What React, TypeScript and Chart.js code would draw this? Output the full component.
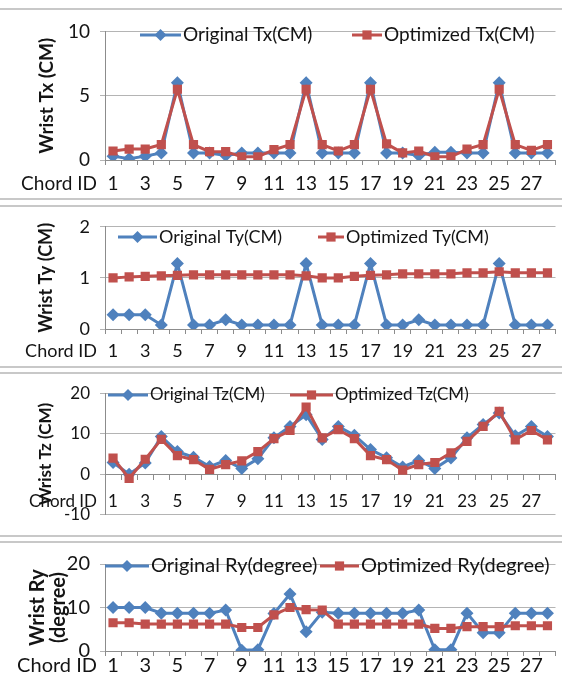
import React, { useEffect, useRef } from "react";
import { Chart, registerables } from "chart.js";

Chart.register(...registerables);

const CHORD_IDS = ["1","2","3","4","5","6","7","8","9","10","11","12","13","14","15","16","17","18","19","20","21","22","23","24","25","26","27","28"];
const SHOWN_X_LABELS = ["1","3","5","7","9","11","13","15","17","19","21","23","25","27"];

const TX_ORIGINAL = [0.3,0.1,0.3,0.55,6,0.55,0.55,0.35,0.55,0.55,0.55,0.55,6,0.55,0.55,0.55,6,0.55,0.55,0.35,0.6,0.6,0.55,0.55,6,0.55,0.55,0.55];
const TX_OPTIMIZED = [0.7,0.85,0.85,1.2,5.5,1.2,0.65,0.65,0.25,0.25,0.8,1.2,5.5,1.2,0.7,1.2,5.5,1.25,0.55,0.7,0.25,0.25,0.85,1.2,5.5,1.2,0.75,1.2];

const TY_ORIGINAL = [0.28,0.28,0.28,0.08,1.28,0.08,0.08,0.18,0.08,0.08,0.08,0.08,1.28,0.08,0.08,0.08,1.28,0.08,0.08,0.18,0.08,0.08,0.08,0.08,1.28,0.08,0.08,0.08];
const TY_OPTIMIZED = [1.0,1.02,1.03,1.04,1.05,1.06,1.06,1.06,1.06,1.06,1.06,1.06,1.04,1.0,1.0,1.03,1.05,1.06,1.08,1.08,1.08,1.08,1.1,1.1,1.12,1.1,1.1,1.1];

const TZ_ORIGINAL = [2.9,0,2.8,9.3,5.6,4.2,1.9,3.4,1.4,3.8,9.0,11.8,14.7,8.6,11.8,9.6,6.1,4.1,1.8,3.4,1.4,4.0,9.0,12.3,15.1,9.5,11.8,9.3];
const TZ_OPTIMIZED = [4.0,-1.0,3.7,8.6,4.6,3.6,1.2,2.4,3.3,5.6,8.8,10.8,16.6,9.0,11.0,8.8,4.6,3.6,1.0,2.4,2.9,5.3,8.1,11.8,15.5,8.5,10.8,8.5];

const RY_ORIGINAL = [10,10,10,8.7,8.7,8.7,8.7,9.4,0.2,0.3,8.6,13.1,4.4,8.9,8.7,8.7,8.7,8.7,8.7,9.4,0.3,0.3,8.7,4.2,4.2,8.7,8.7,8.7];
const RY_OPTIMIZED = [6.5,6.5,6.2,6.2,6.2,6.2,6.2,6.2,5.4,5.4,8.3,10.0,9.5,9.4,6.2,6.2,6.2,6.2,6.2,6.2,5.2,5.2,5.6,5.6,5.6,5.8,5.8,5.8];

const TEXT_COLOR = "#141414";
const GRID_COLOR = "#b4b4b4";
const AXIS_COLOR = "#8c8c8c";
const BLUE = "#4F81BD";
const RED = "#C0504D";
const FONT = "Lato, 'Open Sans', sans-serif";
const PLOT_LEFT = 105;
const CANVAS_W = 562;

const PANELS = [
  {
    top: 10, height: 188, padTop: 11, padBottom: 0, padLeft: 35, xAxisHeight: 38, cross: false, fs: 19, xPad: 7, titleLH: 1.2,
    yMin: 0, yMax: 10, yStep: 5, yTitle: "Wrist Tx (CM)",
    labels: ["Original Tx(CM)", "Optimized Tx(CM)"], original: TX_ORIGINAL, optimized: TX_OPTIMIZED,
    legendY: 25, legend: [{ x0: 140, x1: 181, tx: 183 }, { x0: 352, x1: 382, tx: 384 }],
  },
  {
    top: 206, height: 160, padTop: 15, padBottom: 0, padLeft: 35, xAxisHeight: 37, cross: false, fs: 18, xPad: 6, titleLH: 1.2,
    yMin: 0, yMax: 2, yStep: 1, yTitle: "Wrist Ty (CM)",
    labels: ["Original Ty(CM)", "Optimized Ty(CM)"], original: TY_ORIGINAL, optimized: TY_OPTIMIZED,
    legendY: 31, legend: [{ x0: 118, x1: 157, tx: 159 }, { x0: 318, x1: 344, tx: 346 }],
  },
  {
    top: 373, height: 162, padTop: 15, padBottom: 12, padLeft: 35, xAxisHeight: 0, cross: true, fs: 17, xPad: 12, titleLH: 1.2,
    yMin: -10, yMax: 20, yStep: 10, yTitle: "Wrist Tz (CM)",
    labels: ["Original Tz(CM)", "Optimized Tz(CM)"], original: TZ_ORIGINAL, optimized: TZ_OPTIMIZED,
    legendY: 22, legend: [{ x0: 108, x1: 148, tx: 150 }, { x0: 290, x1: 333, tx: 335 }],
  },
  {
    top: 542, height: 146, padTop: 14, padBottom: 0, padLeft: 27, xAxisHeight: 37, cross: false, fs: 20, xPad: -2, titleLH: 1.05,
    yMin: 0, yMax: 20, yStep: 10, yTitle: ["Wrist Ry", "(degree)"],
    labels: ["Original Ry(degree)", "Optimized Ry(degree)"], original: RY_ORIGINAL, optimized: RY_OPTIMIZED,
    legendY: 24, legend: [{ x0: 105, x1: 149, tx: 151 }, { x0: 320, x1: 359, tx: 361 }],
  },
];

const SEPARATORS = [8, 198, 205, 366, 372, 535, 541];

const TICK_LEN = 5;

function drawDiamond(ctx: CanvasRenderingContext2D, x: number, y: number, r: number) {
  ctx.beginPath();
  ctx.moveTo(x, y - r);
  ctx.lineTo(x + r, y);
  ctx.lineTo(x, y + r);
  ctx.lineTo(x - r, y);
  ctx.closePath();
  ctx.fill();
}

function drawSquare(ctx: CanvasRenderingContext2D, x: number, y: number, h: number) {
  ctx.fillRect(x - h, y - h, 2 * h, 2 * h);
}

function makeOverlay(panel: any, idx: number) {
  return {
    id: "overlay" + idx,
    afterDatasetsDraw(chart: any) {
      const ctx: CanvasRenderingContext2D = chart.ctx;
      ctx.save();
      panel.legend.forEach((item: any, i: number) => {
        const color = i === 0 ? BLUE : RED;
        ctx.strokeStyle = color;
        ctx.fillStyle = color;
        ctx.lineWidth = 3;
        ctx.beginPath();
        ctx.moveTo(item.x0, panel.legendY);
        ctx.lineTo(item.x1, panel.legendY);
        ctx.stroke();
        const mx = (item.x0 + item.x1) / 2;
        if (i === 0) drawDiamond(ctx, mx, panel.legendY, 6);
        else drawSquare(ctx, mx, panel.legendY, 4.6);
        ctx.fillStyle = TEXT_COLOR;
        ctx.font = `${panel.fs}px ${FONT}`;
        ctx.textAlign = "left";
        ctx.textBaseline = "middle";
        ctx.fillText(panel.labels[i], item.tx, panel.legendY);
      });
      const axisY = panel.cross ? chart.scales.y.getPixelForValue(0) : chart.scales.x.top;
      ctx.fillStyle = TEXT_COLOR;
      ctx.font = `${panel.fs}px ${FONT}`;
      ctx.textAlign = "right";
      ctx.textBaseline = "middle";
      ctx.fillText("Chord ID", 97, axisY + TICK_LEN + panel.xPad + (panel.fs * 1.2) / 2);
      ctx.restore();
    },
  };
}

function Panel({ panel, idx }: { panel: any; idx: number }) {
  const ref = useRef<HTMLCanvasElement>(null);
  useEffect(() => {
    const canvas = ref.current;
    if (!canvas) return;
    const chart = new Chart(canvas, {
      type: "line",
      data: {
        labels: CHORD_IDS,
        datasets: [
          {
            label: panel.labels[0],
            data: panel.original,
            borderColor: BLUE,
            backgroundColor: BLUE,
            borderWidth: 3,
            pointStyle: "rectRot",
            pointRadius: 6.5,
            pointBorderWidth: 0,
            pointBackgroundColor: BLUE,
            tension: 0,
            order: 1,
          },
          {
            label: panel.labels[1],
            data: panel.optimized,
            borderColor: RED,
            backgroundColor: RED,
            borderWidth: 3,
            pointStyle: "rect",
            pointRadius: 6.5,
            pointBorderWidth: 0,
            pointBackgroundColor: RED,
            tension: 0,
            order: 0,
          },
        ],
      },
      options: {
        responsive: false,
        animation: false,
        devicePixelRatio: 1,
        layout: { padding: { top: panel.padTop, left: panel.padLeft, right: 6, bottom: panel.padBottom } },
        plugins: { legend: { display: false }, tooltip: { enabled: false } },
        scales: {
          x: {
            type: "category",
            offset: true,
            position: panel.cross ? { y: 0 } : "bottom",
            grid: { offset: true, drawOnChartArea: false, drawTicks: true, tickLength: TICK_LEN, color: AXIS_COLOR },
            border: { color: AXIS_COLOR, width: 1 },
            ticks: {
              autoSkip: false,
              maxRotation: 0,
              minRotation: 0,
              padding: panel.xPad,
              color: TEXT_COLOR,
              font: { family: FONT, size: panel.fs },
              callback: (_v: any, i: number) => (SHOWN_X_LABELS.includes(CHORD_IDS[i]) ? CHORD_IDS[i] : ""),
            },
            afterFit: (s: any) => {
              if (!panel.cross) s.height = panel.xAxisHeight;
            },
          },
          y: {
            min: panel.yMin,
            max: panel.yMax,
            ticks: { stepSize: panel.yStep, padding: 10, color: TEXT_COLOR, font: { family: FONT, size: panel.fs } },
            grid: { color: GRID_COLOR, tickLength: TICK_LEN, drawTicks: true },
            border: { color: AXIS_COLOR, width: 1 },
            title: {
              display: true,
              text: panel.yTitle,
              color: TEXT_COLOR,
              font: { family: FONT, size: panel.fs, weight: "bold", lineHeight: panel.titleLH },
              padding: 0,
            },
            afterFit: (s: any) => {
              s.width = PLOT_LEFT - panel.padLeft;
            },
          },
        },
      } as any,
      plugins: [makeOverlay(panel, idx)],
    });
    return () => chart.destroy();
  }, [panel, idx]);
  return (
    <canvas
      ref={ref}
      width={CANVAS_W}
      height={panel.height}
      style={{ position: "absolute", left: 0, top: panel.top, width: CANVAS_W, height: panel.height }}
    />
  );
}

export default function App() {
  return (
    <div style={{ position: "fixed", left: 0, top: 0, width: 562, height: 688, background: "#fff", overflow: "hidden" }}>
      {SEPARATORS.map((y, i) => (
        <div key={i} style={{ position: "absolute", left: 0, top: y, width: 562, height: 2, background: "#c8c8c8" }} />
      ))}
      {PANELS.map((p, i) => (
        <Panel key={i} panel={p} idx={i} />
      ))}
    </div>
  );
}
